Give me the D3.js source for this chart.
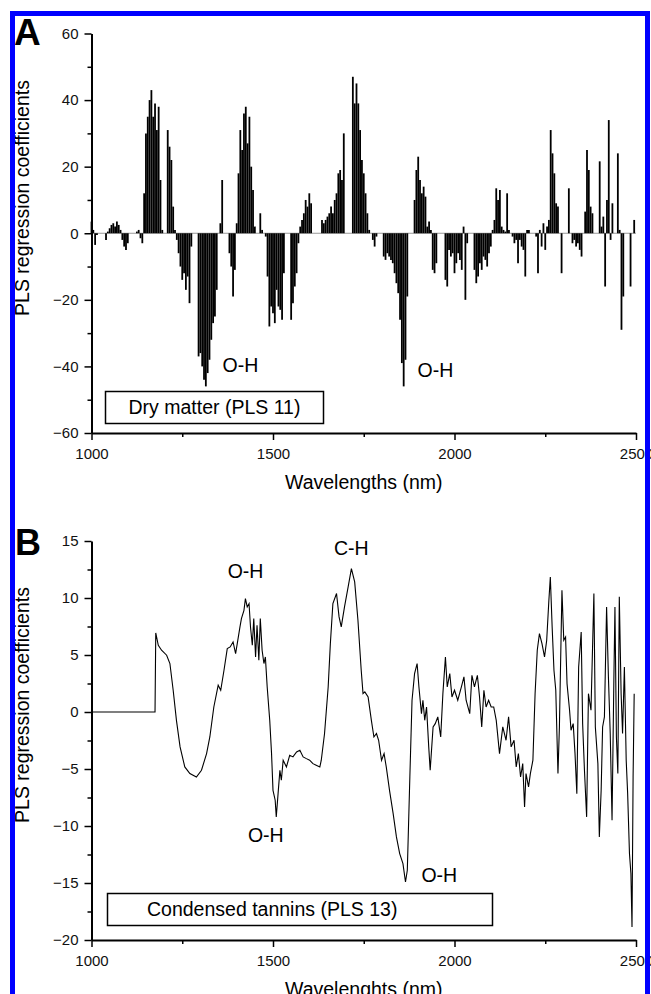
<!DOCTYPE html>
<html>
<head>
<meta charset="utf-8">
<title>PLS regression coefficients</title>
<script src="https://d3js.org/d3.v7.min.js"></script>
<style>
  body { margin: 0; background: #fff; }
  svg text { font-family: "Liberation Sans", Arial, sans-serif; fill: #000; }
</style>
</head>
<body>
<svg width="651" height="994"></svg>
<script>
// panel A: coefficients on a 5 nm grid from 1000 to 2500 nm
var wlStart = 1000, wlStep = 5;
var coefA = [
  3.5, 1, -3.5, -0.5, 0, 0, 0, 0, -2, 0.5,
  1.5, 2.5, 3, 2, 3.5, 2.5, 1, -2, -4, -5,
  -3, 0, 0, 0, 0, 0.5, 1, -1.5, -3, 12,
  30, 35, 40, 43, 35, 39, 31, 38, 16, 1,
  0, 0, 31, 26, 22, 8, 1, -2, -6, -10,
  -14, -12, -17, -13, -21, -4, 0, 0, 0, -37,
  -36, -40, -44, -46, -42, -38, -32, -27, -25, -17,
  0, 3, 16, 0, 0, 0, -6, -10, -19, -11,
  3, 18, 31, 25, 36, 38, 27, 35, 20, 13,
  2, 0, 0, 6, 1, 0, -1, -13, -28, -22,
  -24, -27, -17, -22, -23, -26, -12, 0, 0, 0,
  -26, -21, -16, -12, -3, 2, 4, 6, 10, 8,
  12, 9, 0, 0, 0, 0, 0, 4, 3, 4,
  5, 6, 8, 6, 10, 12, 18, 19, 16, 30,
  0, 0, 0, 0, 47, 39, 45, 39, 31, 22,
  18, 12, 6, 1, 0, -2, -4, -1, 0, 0,
  0, -7, -8, -6, -7, -8, -9, -12, -15, -18,
  -26, -39, -46, -38, -19, 0, 0, 0, 10, 19,
  23, 16, 12, 14, 11, 2, 3.5, 1, -11, -12,
  -9, 0, 0, 0, 0, -14, -16, -5, -7, -6,
  -12, -9, -6, -8, -11, 2, -20, -3, 0, 0,
  0, -11, -15, -13, -9, -11, -7, -8, -10, -6,
  -4, 1, 4, 13.5, 10, 13, 2, 1, 0.5, 12,
  1, 0, -1, -3, -2, -9, -2, -4, -5, -13,
  1, 1, 0, 0, 0, -1, -12, 1, -4, 3,
  -5, 2, 4, 31, 24, 18, 9, 8, 0, -12,
  0, 0, 0, 13.5, 0, -3, -2, -4, -3, -5,
  -7, 0, 6.5, 25, 19, 8, 6, 0, 0, 0,
  21.6, 2, 5, -16, 10, 34, -2, 9, 0, 0,
  24, 1, -29, -19, 0, 0, 0, -16, 0, 4,
  0
];

// panel B: points
var wlB = [1000, 1175, 1177, 1184, 1193, 1207, 1216, 1225, 1234, 1244, 1257, 1271, 1289, 1303, 1317, 1326,
  1337, 1349, 1356, 1365, 1374, 1382, 1390, 1397, 1403, 1409, 1413, 1420, 1424, 1429, 1434, 1438, 1443,
  1447, 1452, 1456, 1461, 1465, 1470, 1475, 1479, 1484, 1491, 1496, 1500, 1506, 1509, 1514, 1519, 1523,
  1528, 1537, 1546, 1555, 1565, 1574, 1583, 1592, 1601, 1610, 1619, 1629, 1633, 1642, 1652, 1658, 1665,
  1675, 1682, 1688, 1697, 1707, 1716, 1725, 1734, 1743, 1748, 1753, 1762, 1771, 1778, 1785, 1791, 1799,
  1806, 1812, 1821, 1831, 1840, 1849, 1858, 1865, 1870, 1877, 1883, 1890, 1897, 1902, 1909, 1913, 1918,
  1923, 1929, 1933, 1941, 1947, 1954, 1962, 1968, 1975, 1980, 1987, 1993, 2000, 2009, 2019, 2026, 2032,
  2042, 2048, 2055, 2063, 2069, 2075, 2081, 2087, 2094, 2101, 2108, 2115, 2124, 2133, 2142, 2149, 2156,
  2164, 2170, 2176, 2182, 2188, 2193, 2197, 2204, 2209, 2216, 2222, 2228, 2234, 2241, 2248, 2254, 2260,
  2264, 2269, 2274, 2279, 2285, 2289, 2296, 2301, 2306, 2310, 2317, 2321, 2327, 2332, 2337, 2342, 2349,
  2353, 2358, 2364, 2369, 2376, 2384, 2388, 2395, 2399, 2404, 2408, 2413, 2419, 2424, 2429, 2434, 2439,
  2442, 2446, 2450, 2454, 2459, 2463, 2468, 2473, 2477, 2482, 2486, 2489, 2492, 2495];
var coefB = [0, 0, 6.94, 5.85, 5.42, 4.98, 4.25, 1.91, -0.73, -3.06, -4.82, -5.4, -5.7, -5.11, -3.65, -2.19,
  0.44, 2.35, 1.91, 3.66, 5.56, 5.71, 6.15, 5.12, 6.29, 7.46, 8.19, 8.92, 9.95, 9.22, 9.51, 7.46, 5.85,
  8.19, 4.83, 7.61, 4.54, 8.19, 5.42, 4.25, 4.83, 2.2, -0.73, -3.65, -6.87, -7.74, -9.2, -7.16, -5.11, -5.99,
  -4.23, -4.82, -3.8, -3.94, -3.5, -3.36, -3.94, -4.09, -4.23, -4.53, -4.67, -4.82, -4.23, -1.89, 2.2, 6.0, 9.51,
  10.39, 8.34, 7.46, 9.22, 10.97, 12.58, 11.41, 8.05, 3.66, 1.61, 1.76, 1.32, -0.73, -2.19, -1.89, -2.48, -4.23,
  -3.65, -4.82, -6.87, -8.91, -10.96, -12.42, -13.3, -14.91, -13.88, -5.7, 1.03, 3.37, 4.25, 2.2, -0.14, 1.03, -0.73,
  0.44, -3.06, -5.11, -1.31, -1.02, -0.43, -2.19, 1.61, 4.83, 2.2, 3.37, 1.32, 1.91, 1.03, 2.2, 3.08, 1.03,
  -0.14, 3.22, 2.2, 3.22, 1.32, -1.31, 1.91, 0.44, 1.03, 0.44, 0.44, -0.73, -3.65, -1.31, -2.48, -0.43, -3.06,
  -2.48, -4.82, -3.65, -5.7, -4.53, -8.33, -5.4, -6.57, -5.4, -4.23, 1.61, 5.42, 6.88, 6.0, 4.83, 6.29, 9.8,
  11.85, 7.46, 3.66, 1.91, -5.4, -1.31, 10.68, 6.29, 6.58, 2.49, 0.15, -1.6, -1.02, -3.65, -7.16, 3.95, 7.02,
  -1.02, -5.11, -9.2, 1.61, 0.15, 10.39, -1.31, -4.53, -10.96, -6.87, -1.31, -0.43, 9.22, 3.08, -1.89, -9.5, 2.78,
  9.22, -2.19, -5.4, 10.1, 1.61, -1.89, 3.95, -4.23, -7.16, -12.42, -14.18, -18.85, -5.7, 1.61];

var xTicks = [1000, 1500, 2000, 2500];
var xMinor = [1250, 1750, 2250];
var yTicksA = [-60, -40, -20, 0, 20, 40, 60];
var yMinorA = [-50, -30, -10, 10, 30, 50];
var yTicksB = [-20, -15, -10, -5, 0, 5, 10, 15];
var yMinorB = [-17.5, -12.5, -7.5, -2.5, 2.5, 7.5, 12.5];

var notesA = [{t: "O-H", w: 1361, v: -41.7}, {t: "O-H", w: 1898, v: -43.2}];
var notesB = [{t: "O-H", w: 1375, v: 11.73}, {t: "C-H", w: 1668, v: 13.75},
              {t: "O-H", w: 1431, v: -11.43}, {t: "O-H", w: 1909, v: -14.94}];

var svg = d3.select("svg");

var x = d3.scaleLinear().domain([1000, 2500]).range([91.5, 636]);
var yA = d3.scaleLinear().domain([-60, 60]).range([433, 33.5]);
var yB = d3.scaleLinear().domain([-20, 15]).range([940, 541]);

function drawAxes(y, majorY, minorY) {
  var base = y.range()[0];
  var styleAxis = function(g) {
    g.attr("font-family", null).attr("font-size", null);
    g.select(".domain").attr("stroke", "#000").attr("stroke-width", 2);
    g.selectAll(".tick line").attr("stroke", "#000").attr("stroke-width", 1.5);
    g.selectAll(".tick text").style("font-size", "15px").style("fill", "#111");
  };
  svg.append("g").attr("transform", "translate(0," + base + ")")
    .call(d3.axisBottom(x).tickValues(xMinor).tickSize(4).tickFormat(""))
    .call(styleAxis).call(function(g) { g.select(".domain").remove(); });
  svg.append("g").attr("transform", "translate(" + x.range()[0] + ",0)")
    .call(d3.axisLeft(y).tickValues(minorY).tickSize(4).tickFormat(""))
    .call(styleAxis).call(function(g) { g.select(".domain").remove(); });
  svg.append("g").attr("transform", "translate(0," + base + ")")
    .call(d3.axisBottom(x).tickValues(xTicks).tickSize(7).tickPadding(8).tickSizeOuter(0).tickFormat(d3.format("d")))
    .call(styleAxis);
  svg.append("g").attr("transform", "translate(" + x.range()[0] + ",0)")
    .call(d3.axisLeft(y).tickValues(majorY).tickSize(7).tickPadding(6).tickSizeOuter(0).tickFormat(d3.format("d")))
    .call(styleAxis);
}

// ---- panel A: stems
svg.append("line").attr("x1", x(1000)).attr("x2", x(2500)).attr("y1", yA(0)).attr("y2", yA(0))
  .attr("stroke", "#999").attr("stroke-width", 1);
svg.append("g").selectAll("line").data(coefA).join("line")
  .attr("x1", function(d, i) { return x(wlStart + i * wlStep); })
  .attr("x2", function(d, i) { return x(wlStart + i * wlStep); })
  .attr("y1", yA(0))
  .attr("y2", function(d) { return yA(d); })
  .attr("stroke", "#000").attr("stroke-width", 1.8);
drawAxes(yA, yTicksA, yMinorA);

// ---- panel B: line
var ptsB = wlB.map(function(w, i) { return [w, coefB[i]]; });
svg.append("path").datum(ptsB)
  .attr("d", d3.line().x(function(d) { return x(d[0]); }).y(function(d) { return yB(d[1]); }))
  .attr("fill", "none").attr("stroke", "#000").attr("stroke-width", 1.1);
drawAxes(yB, yTicksB, yMinorB);

// annotations
notesA.forEach(function(n) {
  svg.append("text").attr("x", x(n.w)).attr("y", yA(n.v)).style("font-size", "19.5px").text(n.t);
});
notesB.forEach(function(n) {
  svg.append("text").attr("x", x(n.w)).attr("y", yB(n.v)).style("font-size", "19.5px").text(n.t);
});

// panel letters
svg.append("text").attr("x", 14).attr("y", 45).style("font-size", "37px").style("font-weight", "bold").text("A");
svg.append("text").attr("x", 15).attr("y", 555).style("font-size", "36px").style("font-weight", "bold").text("B");

// axis titles
svg.append("text").attr("transform", "translate(28.5,198) rotate(-90)").attr("text-anchor", "middle")
  .style("font-size", "19.5px").text("PLS regression coefficients");
svg.append("text").attr("transform", "translate(28.5,705) rotate(-90)").attr("text-anchor", "middle")
  .style("font-size", "19.5px").text("PLS regression coefficients");
svg.append("text").attr("x", 363.75).attr("y", 489).attr("text-anchor", "middle")
  .style("font-size", "19.5px").text("Wavelengths (nm)");
svg.append("text").attr("x", 363.75).attr("y", 996).attr("text-anchor", "middle")
  .style("font-size", "19.5px").text("Wavelenghts (nm)");

// legend boxes
svg.append("rect").attr("x", 105.5).attr("y", 391.5).attr("width", 218).attr("height", 32)
  .attr("fill", "#fff").attr("stroke", "#000").attr("stroke-width", 1.5);
svg.append("text").attr("x", 214.5).attr("y", 414).attr("text-anchor", "middle")
  .style("font-size", "19.5px").text("Dry matter (PLS 11)");
svg.append("rect").attr("x", 107.5).attr("y", 893.5).attr("width", 385).attr("height", 32)
  .attr("fill", "#fff").attr("stroke", "#000").attr("stroke-width", 1.5);
svg.append("text").attr("x", 147).attr("y", 916).style("font-size", "19.5px").text("Condensed tannins (PLS 13)");

// blue frame, drawn last so it covers the clipped "2500" labels as in the original
svg.append("rect").attr("x", 12.5).attr("y", 13.5).attr("width", 635).attr("height", 1000)
  .attr("fill", "none").attr("stroke", "#0000ff").attr("stroke-width", 5);
</script>
</body>
</html>
